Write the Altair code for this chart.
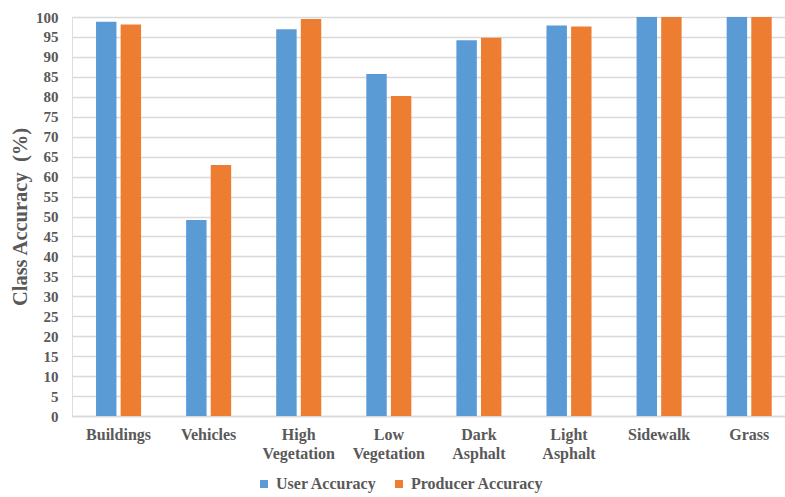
import altair as alt
import pandas as pd

# Per-class accuracy values (%)
classes = ["Buildings", "Vehicles", "High Vegetation", "Low Vegetation",
           "Dark Asphalt", "Light Asphalt", "Sidewalk", "Grass"]
user_accuracy = [98.8, 49.1, 96.9, 85.7, 94.2, 97.9, 100.0, 100.0]
producer_accuracy = [98.1, 62.9, 99.5, 80.2, 94.8, 97.6, 100.0, 100.0]
series = ["User Accuracy", "Producer Accuracy"]
colors = ["#5B9BD5", "#ED7D31"]

rows = []
for c, u, p in zip(classes, user_accuracy, producer_accuracy):
    rows.append({"cls": c, "series": series[0], "value": u})
    rows.append({"cls": c, "series": series[1], "value": p})
df = pd.DataFrame(rows)

font = "Liberation Serif"
text_color = "#595959"

chart = (
    alt.Chart(df)
    .mark_bar()
    .encode(
        x=alt.X(
            "cls:N",
            sort=classes,
            title=None,
            scale=alt.Scale(paddingInner=0.5, paddingOuter=0.207, align=0.644),
            axis=alt.Axis(
                labelAngle=0,
                labelExpr="split(datum.label, ' ')",
                labelFont=font,
                labelFontSize=16,
                labelFontWeight="bold",
                labelColor=text_color,
                labelPadding=10,
                labelLineHeight=19,
                ticks=False,
                domainColor="#D9D9D9",
                domainWidth=1.5,
                grid=False,
            ),
        ),
        xOffset=alt.XOffset("series:N", sort=series,
                            scale=alt.Scale(paddingInner=0.17)),
        y=alt.Y(
            "value:Q",
            title="Class Accuracy\u2002(%)",
            scale=alt.Scale(domain=[0, 100], nice=False),
            axis=alt.Axis(
                values=list(range(0, 101, 5)),
                labelFont=font,
                labelFontSize=15,
                labelFontWeight="bold",
                labelColor=text_color,
                labelPadding=14,
                ticks=False,
                domain=False,
                gridColor="#D9D9D9",
                gridWidth=1.5,
                titleFont=font,
                titleFontSize=20.5,
                titleFontWeight="bold",
                titleColor=text_color,
                titlePadding=5,
            ),
        ),
        color=alt.Color(
            "series:N",
            sort=series,
            scale=alt.Scale(domain=series, range=colors),
            legend=alt.Legend(
                title=None,
                orient="none",
                direction="horizontal",
                legendX=184,
                legendY=459,
                padding=0,
                symbolType="square",
                symbolSize=64,
                symbolStrokeWidth=0,
                labelFont=font,
                labelFontSize=16,
                labelFontWeight="bold",
                labelColor=text_color,
                labelOffset=4,
                columnPadding=14,
            ),
        ),
    )
    .properties(
        width=713,
        height=399,
        autosize=alt.AutoSizeParams(type="none"),
        padding={"left": 72, "top": 17, "right": 0, "bottom": 81},
    )
    .configure_view(stroke=None)
    .configure(background="white")
)

chart.save("out.html", embed_options={"renderer": "svg", "actions": False})
